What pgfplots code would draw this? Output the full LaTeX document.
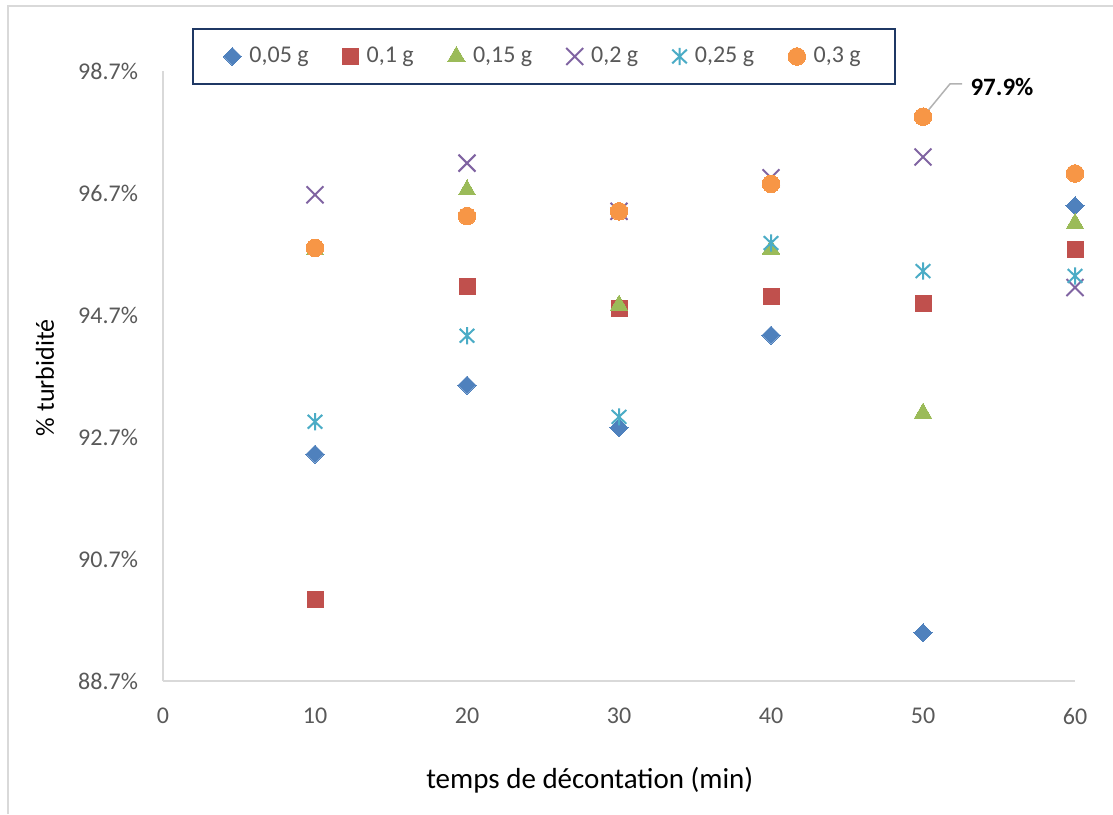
\documentclass[border=0pt]{standalone}
\usepackage{pgfplots}
\pgfplotsset{compat=1.18}
\usepackage{fontspec}
\setmainfont{Carlito}
\definecolor{c1}{HTML}{4F81BD}
\definecolor{c2}{HTML}{C0504D}
\definecolor{c3}{HTML}{9BBB59}
\definecolor{c4}{HTML}{8064A2}
\definecolor{c5}{HTML}{4BACC6}
\definecolor{c6}{HTML}{F79646}
\definecolor{txt}{HTML}{595959}
\definecolor{axl}{HTML}{D9D9D9}
\definecolor{legb}{HTML}{1F3864}
\pgfdeclareplotmark{xstar}{%
  \pgfpathmoveto{\pgfqpoint{0pt}{\pgfplotmarksize}}%
  \pgfpathlineto{\pgfqpoint{0pt}{-\pgfplotmarksize}}%
  \pgfpathmoveto{\pgfqpoint{-.85\pgfplotmarksize}{-.8\pgfplotmarksize}}%
  \pgfpathlineto{\pgfqpoint{.85\pgfplotmarksize}{.8\pgfplotmarksize}}%
  \pgfpathmoveto{\pgfqpoint{-.85\pgfplotmarksize}{.8\pgfplotmarksize}}%
  \pgfpathlineto{\pgfqpoint{.85\pgfplotmarksize}{-.8\pgfplotmarksize}}%
  \pgfusepathqstroke}
\begin{document}
\begin{tikzpicture}
\useasboundingbox (-81.5pt,-66.5pt) rectangle (475pt,340.5pt);
\draw[axl, line width=1pt] (-77.5pt,-66.5pt) -- (-77.5pt,337.5pt) -- (475pt,337.5pt);
\begin{axis}[
  at={(0pt,0pt)}, anchor=south west,
  scale only axis, width=456pt, height=305pt,
  xmin=0, xmax=60, ymin=88.7, ymax=98.7,
  xtick={0,10,20,30,40,50,60},
  ytick={88.7,90.7,92.7,94.7,96.7,98.7},
  yticklabels={88.7\%,90.7\%,92.7\%,94.7\%,96.7\%,98.7\%},
  axis x line*=bottom, axis y line*=left,
  axis line style={axl, line width=1pt, -},
  major tick length=0pt,
  tick label style={font=\fontsize{12}{14}\selectfont, text=txt},
  /pgf/number format/assume math mode=true,
  xticklabel style={yshift=-10pt},
  yticklabel style={xshift=-9pt},
  xlabel={temps de décontation (min)},
  ylabel={\% turbidité},
  xlabel style={at={(axis description cs:0.468,0)}, anchor=center, yshift=-49.5pt, font=\fontsize{14.5}{17}\selectfont},
  ylabel style={at={(axis description cs:-0.1294,0.497)}, anchor=center, font=\fontsize{13}{15}\selectfont},
  legend columns=6,
  legend image code/.code={\draw[mark repeat=2,mark phase=2,#1] plot coordinates {(0pt,0pt) (5pt,0pt) (10pt,0pt)};},
  legend style={at={(axis description cs:0.4178,1.0238)}, anchor=center,
    draw=legb, line width=1pt, font=\fontsize{12}{14}\selectfont, text=txt,
    inner xsep=15pt, inner ysep=7pt,
    /tikz/every odd column/.append style={column sep=2pt},
    /tikz/every even column/.append style={column sep=15pt}},
  clip=false,
]
\addplot[only marks, mark=square*, mark size=3.2pt, mark options={rotate=45, fill=c1, draw=c1, line width=0pt}] coordinates {
(10,92.42) (20,93.55) (30,92.85) (40,94.37) (50,89.49) (60,96.49)};
\addlegendentry{0,05 g}
\addplot[only marks, mark=square*, mark size=4pt, mark options={fill=c2, draw=c2, line width=0pt}] coordinates {
(10,90.03) (20,95.16) (30,94.81) (40,95.00) (50,94.89) (60,95.78)};
\addlegendentry{0,1 g}
\addplot[only marks, mark=triangle*, mark size=5pt, mark options={fill=c3, draw=c3, line width=0pt}] coordinates {
(10,95.77) (20,96.75) (30,94.86) (40,95.78) (50,93.09) (60,96.20)};
\addlegendentry{0,15 g}
\addplot[only marks, mark=x, mark size=6pt, mark options={draw=c4, line width=1pt}] coordinates {
(10,96.67) (20,97.19) (30,96.40) (40,96.95) (50,97.29) (60,95.15)};
\addlegendentry{0,2 g}
\addplot[only marks, mark=xstar, mark size=4.3pt, mark options={draw=c5, line width=1pt}] coordinates {
(10,92.95) (20,94.36) (30,93.03) (40,95.88) (50,95.42) (60,95.34)};
\addlegendentry{0,25 g}
\addplot[only marks, mark=*, mark size=4.4pt, mark options={fill=c6, draw=c6, line width=0pt}] coordinates {
(10,95.80) (20,96.32) (30,96.40) (40,96.85) (50,97.95) (60,97.02)};
\addlegendentry{0,3 g}
\draw[gray!60, line width=0.75pt] (axis cs:50,97.95) -- (axis cs:51.78,98.49) -- (axis cs:52.57,98.49);
\node[anchor=west, font=\bfseries\fontsize{12.5}{15}\selectfont, inner sep=0pt] at (axis cs:53.1,98.43) {97.9\%};
\end{axis}
\end{tikzpicture}
\end{document}
